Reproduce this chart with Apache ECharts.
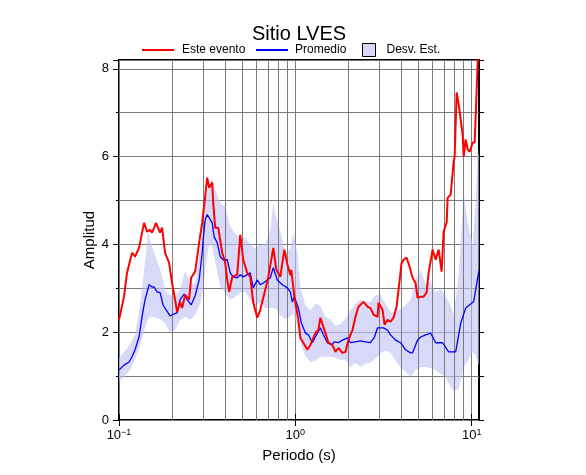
<!DOCTYPE html>
<html>
<head>
<meta charset="utf-8">
<script src="https://cdn.jsdelivr.net/npm/echarts@6/dist/echarts.min.js"></script>
<style>html,body{margin:0;padding:0;background:#fff}#c{width:586px;height:475px}</style>
</head>
<body>
<div id="c"></div>
<script>
// ---- data (period in s, amplitude) ----
const esteEvento = [[0.1,2.28],[0.1068,2.81],[0.111,3.35],[0.1186,3.81],[0.1233,3.72],[0.1299,3.92],[0.1387,4.49],[0.1442,4.29],[0.15,4.33],[0.154,4.27],[0.1623,4.49],[0.171,4.27],[0.1755,4.38],[0.1825,3.81],[0.1923,3.58],[0.2,3.12],[0.208,2.74],[0.2136,2.46],[0.2222,2.69],[0.228,2.55],[0.2371,2.85],[0.2498,2.74],[0.2565,3.24],[0.2703,3.38],[0.2848,4.04],[0.2962,4.49],[0.3081,5.09],[0.3162,5.52],[0.3246,5.29],[0.3377,5.41],[0.3421,4.95],[0.3511,4.38],[0.3652,4.38],[0.3848,3.81],[0.4001,3.58],[0.4108,3.19],[0.4217,2.92],[0.4385,3.26],[0.4683,3.31],[0.487,4.22],[0.5064,3.65],[0.5337,3.35],[0.555,3.26],[0.5772,2.67],[0.6083,2.33],[0.6326,2.51],[0.6753,2.97],[0.7023,3.26],[0.7499,3.92],[0.78,3.42],[0.8219,3.26],[0.866,3.88],[0.9006,3.55],[0.9367,3.30],[0.949,3.42],[0.987,2.81],[1.04,2.28],[1.068,1.87],[1.11,1.76],[1.17,1.60],[1.217,1.71],[1.249,1.67],[1.299,1.98],[1.351,2.05],[1.387,2.33],[1.423,2.33],[1.481,1.98],[1.54,1.76],[1.623,1.71],[1.688,1.55],[1.755,1.64],[1.849,1.53],[1.923,1.55],[2.0,1.82],[2.108,2.05],[2.193,2.35],[2.28,2.58],[2.434,2.69],[2.566,2.58],[2.668,2.55],[2.775,2.40],[2.924,2.35],[2.963,2.67],[3.122,2.51],[3.205,2.17],[3.333,2.28],[3.466,2.24],[3.605,2.33],[3.749,2.58],[3.848,2.97],[4.003,3.58],[4.109,3.65],[4.272,3.70],[4.443,3.49],[4.621,3.24],[4.806,3.12],[4.933,2.78],[5.131,2.81],[5.337,2.81],[5.55,2.90],[5.697,3.35],[6.003,3.88],[6.244,3.65],[6.494,3.88],[6.754,3.38],[6.934,4.30],[7.211,4.50],[7.306,5.06],[7.598,5.13],[7.903,5.88],[8.004,6.00],[8.218,7.46],[8.437,7.19],[8.889,6.50],[9.005,6.00],[9.245,6.39],[9.491,6.16],[9.742,6.11],[10.13,6.32],[10.4,6.32],[10.82,8.17],[11.1,9.0]];

const promedio = [[0.1,1.14],[0.1068,1.25],[0.114,1.32],[0.1186,1.44],[0.1233,1.60],[0.1299,1.89],[0.1351,2.35],[0.1405,2.74],[0.1481,3.08],[0.154,3.03],[0.1581,3.03],[0.1644,2.92],[0.171,2.90],[0.1778,2.62],[0.1849,2.51],[0.1949,2.37],[0.2054,2.42],[0.2136,2.44],[0.2222,2.74],[0.2341,2.87],[0.2434,2.74],[0.2565,2.62],[0.2703,2.83],[0.2848,3.19],[0.2962,3.81],[0.3001,4.11],[0.3081,4.56],[0.3162,4.68],[0.3246,4.61],[0.3377,4.49],[0.3465,4.17],[0.3604,4.04],[0.3749,3.72],[0.3899,3.65],[0.4108,3.65],[0.4272,3.35],[0.4443,3.26],[0.4683,3.24],[0.487,3.31],[0.5064,3.26],[0.5337,3.31],[0.555,3.35],[0.5772,3.01],[0.6083,3.19],[0.6326,3.08],[0.6579,3.12],[0.6935,3.19],[0.721,3.24],[0.7499,3.47],[0.7901,3.19],[0.8436,3.08],[0.9006,3.01],[0.9367,2.92],[0.9615,2.69],[0.987,2.81],[1.04,2.55],[1.082,2.21],[1.14,1.98],[1.186,1.94],[1.249,1.76],[1.299,1.89],[1.387,2.10],[1.442,1.94],[1.52,1.76],[1.601,1.71],[1.665,1.78],[1.755,1.76],[1.849,1.82],[1.975,1.87],[2.054,1.76],[2.193,1.78],[2.341,1.80],[2.499,1.78],[2.668,1.76],[2.812,1.89],[2.924,2.10],[3.162,2.10],[3.333,2.05],[3.466,1.94],[3.7,1.82],[3.952,1.76],[4.217,1.60],[4.501,1.53],[4.621,1.53],[4.933,1.82],[5.131,1.89],[5.48,1.94],[5.848,1.98],[6.244,1.76],[6.843,1.76],[7.403,1.55],[8.111,1.55],[8.66,2.2],[9.245,2.55],[10.27,2.7],[10.82,3.25],[11,3.4]];

const bandT  = [0.1,0.1068,0.1155,0.1233,0.1316,0.1405,0.1461,0.15,0.1601,0.171,0.1825,0.1949,0.208,0.2222,0.2371,0.2531,0.2703,0.2886,0.3001,0.3121,0.3246,0.3377,0.3511,0.3749,0.4001,0.4272,0.456,0.487,0.52,0.555,0.5925,0.6326,0.6753,0.721,0.7499,0.7697,0.8219,0.8773,0.9367,0.9742,1.027,1.068,1.14,1.217,1.299,1.387,1.481,1.581,1.688,1.802,1.923,2.054,2.193,2.341,2.499,2.668,2.848,3.041,3.246,3.466,3.7,3.952,4.217,4.501,4.806,5.131,5.48,5.848,6.244,6.667,7.117,7.598,7.903,8.437,9.005,9.491,10.13,10.54,10.82,11];
const bandLo = [0.87,0.98,1.14,1.37,1.7,2.1,2.3,2.35,2.34,2.3,2.2,2.0,2.05,2.28,2.35,2.28,2.4,2.65,3.0,3.6,4.0,3.95,3.6,3.03,2.9,2.74,2.8,2.9,2.92,2.75,2.6,2.67,2.55,2.55,2.55,2.55,2.38,2.3,2.35,2.44,2.1,1.75,1.45,1.32,1.35,1.44,1.44,1.44,1.42,1.37,1.37,1.21,1.3,1.21,1.28,1.3,1.4,1.52,1.58,1.53,1.35,1.2,1.1,0.98,1.14,1.21,1.21,1.18,1.14,1.05,0.98,0.75,0.66,0.72,1.19,1.35,1.55,1.48,1.3,1.25];
const bandHi = [1.41,1.55,1.72,1.95,2.6,3.6,4.3,4.1,3.75,3.45,2.95,2.85,2.8,2.97,3.4,3.1,3.1,3.9,4.7,5.1,5.35,5.5,5.25,4.95,4.86,4.4,4.25,4.15,4.15,4.0,3.9,4.0,4.0,4.3,4.95,4.7,4.3,3.8,3.9,4.27,3.81,3.03,2.6,2.5,2.65,2.6,2.35,2.28,2.15,2.18,2.3,2.5,2.65,2.74,2.7,2.68,2.85,2.85,2.65,2.45,2.46,2.52,2.62,2.74,3.19,3.42,3.1,3.15,2.9,3.0,2.8,2.6,2.4,3.3,5.2,4.5,4.0,5.0,6.2,6.0];

const minorPeriods = [0.2,0.3,0.4,0.5,0.6,0.7,0.8,0.9,2,3,4,5,6,7,8,9];
const decadeTicks = [0.1,1,10];
const decadeExp = ['\u22121','0','1'];

// ---- chart ----
const FONT = 'Liberation Sans, Arial, Helvetica, sans-serif';
const GRIDC = '#7a7a7a';
const BANDFILL = 'rgba(190,190,245,0.6)';
const chart = echarts.init(document.getElementById('c'), null, {renderer: 'canvas'});

const xRange = {min: 0.1, max: 11};
const yRange = {min: 0, max: 8.2};

function xLabel(v) {
  for (let i = 0; i < decadeTicks.length; i++) {
    if (Math.abs(v - decadeTicks[i]) < 1e-6 * decadeTicks[i]) return '10{sup|' + decadeExp[i] + '}';
  }
  return '';
}

function renderBand(params, api) {
  const pts = [];
  for (let i = 0; i < bandT.length; i++) pts.push(api.coord([bandT[i], bandHi[i]]));
  for (let i = bandT.length - 1; i >= 0; i--) pts.push(api.coord([bandT[i], bandLo[i]]));
  const cs = params.coordSys;
  return {
    type: 'polygon',
    shape: {points: pts},
    style: {fill: BANDFILL, stroke: null},
    clipPath: {type: 'rect', shape: {x: cs.x, y: cs.y, width: cs.width, height: cs.height}},
    silent: true
  };
}

const legendText = {fontFamily: FONT, fontSize: 12, color: '#000'};

chart.setOption({
  animation: false,
  textStyle: {fontFamily: FONT},
  title: {
    text: 'Sitio LVES', left: 299, top: 24, textAlign: 'center', padding: 0,
    textStyle: {fontFamily: FONT, fontSize: 20, fontWeight: 'normal', color: '#000'}
  },
  legend: [
    {data: [{name: 'Este evento', icon: 'rect', itemStyle: {color: '#ff0000'}}], left: 142, top: 44, padding: 0, itemWidth: 32, itemHeight: 2,
     textStyle: Object.assign({padding: [0,0,0,3]}, legendText), selectedMode: false},
    {data: [{name: 'Promedio', icon: 'rect', itemStyle: {color: '#0000ff'}}], left: 256, top: 44, padding: 0, itemWidth: 32, itemHeight: 2,
     textStyle: Object.assign({padding: [0,0,0,2]}, legendText), selectedMode: false},
    {data: [{name: 'Desv. Est.', icon: 'rect', itemStyle: {color: '#d8d8f8', borderColor: '#000', borderWidth: 1, opacity: 1}}],
     left: 362, top: 43, padding: 0, itemWidth: 13, itemHeight: 13,
     textStyle: Object.assign({padding: [0,0,0,6]}, legendText), selectedMode: false}
  ],
  grid: {left: 119, right: 107, top: 60, bottom: 55, show: true, borderColor: '#000', borderWidth: 2, backgroundColor: 'transparent'},
  xAxis: [
    {type: 'log', logBase: 10, min: xRange.min, max: xRange.max, position: 'bottom',
     axisLine: {show: false},
     axisTick: {show: true, inside: false, length: 6, lineStyle: {color: '#000'}, customValues: decadeTicks},
     axisLabel: {margin: 8, color: '#000', fontSize: 13, fontFamily: FONT, customValues: decadeTicks, formatter: xLabel,
       rich: {sup: {fontSize: 9, verticalAlign: 'top', padding: [0,0,6,0], fontFamily: FONT, color: '#000'}}},
     splitLine: {show: true, lineStyle: {color: GRIDC, width: 1}},
     name: 'Periodo (s)', nameLocation: 'middle', nameGap: 28, nameMoveOverlap: false,
     nameTextStyle: {fontFamily: FONT, fontSize: 15, color: '#000'}},
    {type: 'log', logBase: 10, min: xRange.min, max: xRange.max, position: 'top',
     axisLine: {show: false},
     axisTick: {show: true, inside: false, length: 6, lineStyle: {color: '#000'}, customValues: decadeTicks},
     axisLabel: {show: false}, splitLine: {show: false}}
  ],
  yAxis: [
    {type: 'value', min: yRange.min, max: yRange.max, interval: 1, position: 'left',
     axisLine: {show: false},
     axisTick: {show: true, inside: false, length: 3, lineStyle: {color: '#000'}},
     axisLabel: {show: false},
     splitLine: {show: true, lineStyle: {color: GRIDC, width: 1}}},
    {type: 'value', min: yRange.min, max: yRange.max, interval: 2, position: 'left',
     axisLine: {show: false},
     axisTick: {show: true, inside: false, length: 6, lineStyle: {color: '#000'}},
     axisLabel: {margin: 10, color: '#000', fontSize: 13, fontFamily: FONT,
       formatter: v => (Math.abs(v - Math.round(v)) < 1e-9 && Math.round(v) % 2 === 0) ? String(Math.round(v)) : ''},
     splitLine: {show: false},
     name: 'Amplitud', nameLocation: 'middle', nameGap: 22, nameMoveOverlap: false,
     nameTextStyle: {fontFamily: FONT, fontSize: 15, color: '#000'}},
    {type: 'value', min: yRange.min, max: yRange.max, interval: 1, position: 'right',
     axisLine: {show: false},
     axisTick: {show: true, inside: false, length: 5, lineStyle: {color: '#000'}},
     axisLabel: {show: false}, splitLine: {show: false}}
  ],
  series: [
    {name: 'Desv. Est.', type: 'custom', xAxisIndex: 0, yAxisIndex: 0, silent: true,
     itemStyle: {color: '#d8d8f8'}, renderItem: renderBand, data: [[1, 1]], z: 1},
    {name: 'Promedio', type: 'line', xAxisIndex: 0, yAxisIndex: 0, symbol: 'none',
     lineStyle: {color: '#0000ff', width: 1.3}, itemStyle: {color: '#0000ff'}, data: promedio, z: 3,
     markLine: {silent: true, symbol: ['none', 'none'], label: {show: false}, animation: false,
       lineStyle: {color: GRIDC, width: 1, type: 'solid'}, z: 2,
       data: minorPeriods.map(p => ({xAxis: p}))}},
    {name: 'Este evento', type: 'line', xAxisIndex: 0, yAxisIndex: 0, symbol: 'none',
     lineStyle: {color: '#ff0000', width: 2}, itemStyle: {color: '#ff0000'}, data: esteEvento, z: 4}
  ]
});
</script>
</body>
</html>
